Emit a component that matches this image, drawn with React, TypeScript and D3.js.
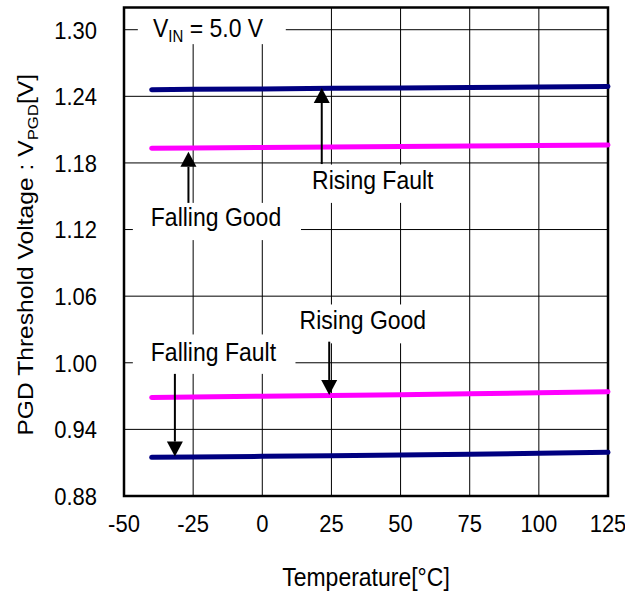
import { line, scaleLinear } from 'd3';

const temps = [-40, -25, 0, 25, 50, 75, 100, 125];
const risingFault = [1.246, 1.2463, 1.2467, 1.2472, 1.2476, 1.248, 1.2484, 1.2488];
const fallingGood = [1.1932, 1.1935, 1.1939, 1.1944, 1.1948, 1.1952, 1.1957, 1.1961];
const risingGood = [0.9688, 0.9692, 0.9699, 0.9706, 0.9713, 0.972, 0.973, 0.9739];
const fallingFault = [0.9148, 0.9151, 0.9157, 0.9163, 0.9169, 0.9176, 0.9184, 0.9193];

const xTicks = [-50, -25, 0, 25, 50, 75, 100, 125];
const yTicks = [0.88, 0.94, 1.0, 1.06, 1.12, 1.18, 1.24, 1.3];

const series = [
  { name: 'Rising Fault', values: risingFault, color: '#000080' },
  { name: 'Falling Good', values: fallingGood, color: '#FF00FF' },
  { name: 'Rising Good', values: risingGood, color: '#FF00FF' },
  { name: 'Falling Fault', values: fallingFault, color: '#000080' },
];

// annotations in data units: arrow at temp t from v0 (tail) to v1 (tip),
// label left edge at lt / centre lv, white box [bx0,bx1] x [bv0,bv1]
const notes = [
  { text: 'Rising Fault', t: 21.5, v0: 1.179, v1: 1.2475, lt: 18, lv: 1.1645, bx: [14.5, 66], bv: [1.1785, 1.144] },
  { text: 'Falling Good', t: -26.7, v0: 1.144, v1: 1.19, lt: -40.3, lv: 1.1312, bx: [-46.8, 14], bv: [1.144, 1.1105] },
  { text: 'Rising Good', t: 24.2, v0: 1.019, v1: 0.971, lt: 13.5, lv: 1.0385, bx: [12, 63], bv: [1.0525, 1.0175] },
  { text: 'Falling Fault', t: -31.6, v0: 0.99, v1: 0.9155, lt: -40.3, lv: 1.0099, bx: [-46.8, 12], bv: [1.0255, 0.99] },
];

const FONT = "Arial, 'Liberation Sans', sans-serif";
const STRETCH = 1.12; // the reference type is a little taller than it is wide

export default function App() {
  const width = 625;
  const height = 594;
  const x = scaleLinear().domain([-50, 125]).range([124, 608]);
  const y = scaleLinear().domain([0.88, 1.32]).range([496, 7.5]);

  const path = line<number>()
    .x((_, i) => x(temps[i]))
    .y((d) => y(d));

  const at = (px: number, py: number) => `translate(${px},${py}) scale(1,${STRETCH})`;

  return (
    <div style={{ position: 'absolute', left: 0, top: 0 }}>
      <svg width={width} height={height} style={{ display: 'block', background: '#fff' }}>
        <rect x={0} y={0} width={width} height={height} fill="#fff" />
        {/* grid */}
        {xTicks.slice(1, -1).map((t) => (
          <line key={`gx${t}`} x1={x(t)} x2={x(t)} y1={y(1.32)} y2={y(0.88)} stroke="#000" strokeWidth={1} />
        ))}
        {yTicks.slice(1).map((t) => (
          <line key={`gy${t}`} x1={x(-50)} x2={x(125)} y1={y(t)} y2={y(t)} stroke="#000" strokeWidth={1} />
        ))}
        {/* label boxes */}
        <rect x={x(-45)} y={y(1.32)} width={x(8.5) - x(-45)} height={y(1.287) - y(1.32)} fill="#fff" />
        {notes.map((n) => (
          <rect
            key={`b${n.text}`}
            x={x(n.bx[0])}
            y={y(n.bv[0])}
            width={x(n.bx[1]) - x(n.bx[0])}
            height={y(n.bv[1]) - y(n.bv[0])}
            fill="#fff"
          />
        ))}
        {/* frame */}
        <rect
          x={x(-50)}
          y={y(1.32)}
          width={x(125) - x(-50)}
          height={y(0.88) - y(1.32)}
          fill="none"
          stroke="#000"
          strokeWidth={2.5}
        />
        {/* data */}
        {series.map((s) => (
          <path
            key={s.name}
            d={path(s.values) ?? ''}
            fill="none"
            stroke={s.color}
            strokeWidth={5}
            strokeLinecap="round"
          />
        ))}
        {/* arrows */}
        {notes.map((n) => {
          const ax = x(n.t);
          const tail = y(n.v0);
          const tip = y(n.v1);
          const dir = tip < tail ? 1 : -1;
          const base = tip + dir * 15;
          return (
            <g key={`a${n.text}`}>
              <line x1={ax} x2={ax} y1={tail} y2={base} stroke="#000" strokeWidth={2} />
              <polygon points={`${ax},${tip} ${ax - 8},${base} ${ax + 8},${base}`} fill="#000" />
            </g>
          );
        })}
        {/* annotation text */}
        <g fontFamily={FONT} fontSize={23} fill="#000">
          {notes.map((n) => (
            <text key={`t${n.text}`} transform={at(x(n.lt), y(n.lv))} dy="0.35em">
              {n.text}
            </text>
          ))}
          <text transform={at(153, y(1.3) - 2)} dy="0.35em">
            V
            <tspan fontSize={15} dy={5}>IN</tspan>
            <tspan dy={-5}> = 5.0 V</tspan>
          </text>
        </g>
        {/* tick labels */}
        <g fontFamily={FONT} fontSize={22} fill="#000">
          {yTicks.map((t) => (
            <text key={`ty${t}`} transform={at(97, y(t))} dy="0.36em" textAnchor="end">
              {t.toFixed(2)}
            </text>
          ))}
          {xTicks.map((t) => (
            <text key={`tx${t}`} transform={at(x(t), 523)} dy="0.36em" textAnchor="middle">
              {t}
            </text>
          ))}
          <text transform={at((x(-50) + x(125)) / 2, 577)} dy="0.36em" textAnchor="middle" fontSize={23}>
            Temperature[°C]
          </text>
          <text
            transform={`translate(33, ${(y(0.88) + y(1.32)) / 2 + 3}) rotate(-90) scale(${STRETCH},1)`}
            textAnchor="middle"
            fontSize={22}
          >
            PGD Threshold Voltage : V
            <tspan fontSize={15} dy={5}>PGD</tspan>
            <tspan dy={-5}>[V]</tspan>
          </text>
        </g>
      </svg>
    </div>
  );
}
